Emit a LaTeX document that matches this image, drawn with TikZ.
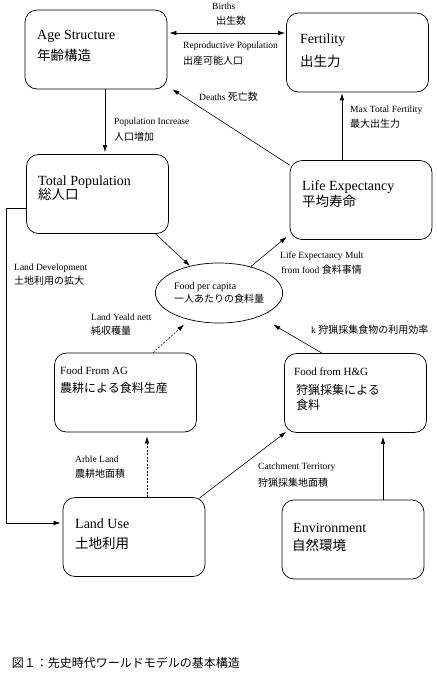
\documentclass[tikz,border=0pt]{standalone}
\usepackage{fontspec}
\setmainfont{Liberation Serif}
\newfontfamily\jp{Noto Sans CJK JP}
\usetikzlibrary{arrows.meta,shapes.geometric}
\newcommand{\jtxt}[1]{{\fontsize{10}{12}\jp #1}}

\begin{document}
\begin{tikzpicture}[x=1pt,y=-1pt,
    box/.style={draw, line width=0.7pt, rounded corners=12pt,
      minimum width=142pt, minimum height=79pt},
    oval/.style={draw, line width=0.7pt, ellipse, align=left,
      minimum width=110pt, minimum height=60pt, inner sep=0pt,
      font=\fontsize{10}{12.5}\selectfont},
    title/.style={anchor=west, inner sep=0pt, font=\fontsize{14}{16}\selectfont},
    titlejp/.style={anchor=west, inner sep=0pt, font=\fontsize{13.5}{16}\jp},
    small/.style={anchor=west, inner sep=0pt, font=\fontsize{11}{13}\selectfont},
    smalljp/.style={anchor=west, inner sep=0pt, font=\fontsize{12}{14}\jp},
    lbl/.style={anchor=west, inner sep=0pt, font=\fontsize{9.5}{11}\selectfont},
    lbljp/.style={anchor=west, inner sep=0pt, font=\fontsize{10}{12}\jp},
    tip/.tip={Latex[length=7pt,width=4.5pt]},
    link/.style={line width=0.6pt, -tip},
    twoway/.style={line width=0.6pt, tip-tip}]
  \useasboundingbox (0,0) rectangle (437,673);

  % blocks
  \node[box] (age) at (96,49.5) {};
  \node[box] (fert) at (357.5,52.5) {};
  \node[box] (totpop) at (97.5,194) {};
  \node[box] (life) at (361,200) {};
  \node[box] (ag) at (125.5,392.5) {};
  \node[box] (hg) at (355.5,393) {};
  \node[box] (landuse) at (134,537) {};
  \node[box] (env) at (353,539.5) {};
  \node[oval] (food) at (219,293) {Food per capita\\{\jp 一人あたりの食料量}};

  % block texts
  \node[title] (agetxt) at (37,36.7) {Age Structure};
  \node[titlejp] (agejp) at (37,55) {年齢構造};
  \node[title] (ferttxt) at (300,40) {Fertility};
  \node[titlejp] (fertjp) at (300,61) {出生力};
  \node[title] (totpoptxt) at (38,181.7) {Total Population};
  \node[titlejp] (totpopjp) at (38,194) {総人口};
  \node[title] (lifetxt) at (302,186.7) {Life Expectancy};
  \node[titlejp] (lifejp) at (302,201.7) {平均寿命};
  \node[small] (agtxt) at (60,370.7) {Food From AG};
  \node[smalljp] (agjp) at (60,388.3) {農耕による食料生産};
  \node[small] (hgtxt) at (294,371.7) {Food from H\&G};
  \node[smalljp] (hgjp) at (296,390) {狩猟採集による};
  \node[smalljp] (hgjpb) at (296,405) {食料};
  \node[title] (landusetxt) at (75,524) {Land Use};
  \node[titlejp] (landusejp) at (75,543) {土地利用};
  \node[title] (envtxt) at (293,527.7) {Environment};
  \node[titlejp] (envjp) at (292,545) {自然環境};

  % connectors
  \coordinate (birthsl) at ([yshift=16.5pt]age.east);
  \draw[twoway, shorten <=2pt, shorten >=1pt] (birthsl) -- (birthsl -| fert.west);
  \begin{scope}[link]
    \draw[shorten >=2pt] ([xshift=9pt]age.south) -- ([xshift=9pt]age.south |- totpop.north);
    \draw ([yshift=-5pt]life.north west) -- ([xshift=5pt]age.south east);
    \draw[shorten >=1pt] ([xshift=-19pt]life.north) -- ([xshift=-19pt]life.north |- fert.south);
    \draw ([xshift=58pt]totpop.south) -- (food);
    \draw (food) -- ([shift={(-3pt,3pt)}]life.south west);
    \draw[dash pattern=on 2pt off 1.5pt, shorten >=7pt] ([xshift=27.5pt]ag.north) -- (food);
    \draw[shorten >=16pt] ([xshift=-33.5pt]hg.north) -- (food);
    \draw[dash pattern=on 2pt off 1.5pt, shorten >=4pt] ([xshift=13pt]landuse.north) -- ([xshift=13pt]landuse.north |- ag.south);
    \draw ([shift={(-6pt,-1pt)}]landuse.north east) -- ([shift={(2pt,1pt)}]hg.south west);
    \draw[shorten >=4pt] ([xshift=30pt]env.north) -- ([xshift=30pt]env.north |- hg.south);
    \draw[shorten >=2pt] ([yshift=-14pt]totpop.west) -- ++(-20pt,0) |- ([yshift=14pt]landuse.west);
  \end{scope}

  % connector labels
  \node[lbl] (birthstxt) at (212,6.7) {Births};
  \node[lbljp] (birthsjp) at (216,20.7) {出生数};
  \node[lbl] (reprotxt) at (183,46) {Reproductive Population};
  \node[lbljp] (reprojp) at (183,60.7) {出産可能人口};
  \node[lbl] (deathstxt) at (199,96.7) {Deaths \jtxt{死亡数}};
  \node[lbl] (maxfertxt) at (350,110) {Max Total Fertility};
  \node[lbljp] (maxferjp) at (350,123.3) {最大出生力};
  \node[lbl] (popinctxt) at (114,122.7) {Population Increase};
  \node[lbljp] (popincjp) at (114,136.7) {人口増加};
  \node[lbl] (lemtxt) at (280,256) {Life Expectancy Mult};
  \node[lbl] (lemjp) at (281,269.3) {from food \jtxt{食料事情}};
  \node[lbl] (landdevtxt) at (14,268) {Land Development};
  \node[lbljp] (landdevjp) at (14,280.7) {土地利用の拡大};
  \node[lbl] (yieldtxt) at (91,317.3) {Land Yeald nett};
  \node[lbljp] (yieldjp) at (91,330.7) {純収穫量};
  \node[lbl] (ktxt) at (311,330) {k \jtxt{狩猟採集食物の利用効率}};
  \node[lbl] (arbletxt) at (75,459.3) {Arble Land};
  \node[lbljp] (arblejp) at (75,473.3) {農耕地面積};
  \node[lbl] (catchtxt) at (258,467.7) {Catchment Territory};
  \node[lbljp] (catchjp) at (258,482.3) {狩猟採集地面積};

  % caption
  \node[anchor=west, inner sep=0pt, font=\fontsize{12}{14}\jp] (caption) at (11.7,662.7) {図１：先史時代ワールドモデルの基本構造};
\end{tikzpicture}
\end{document}
